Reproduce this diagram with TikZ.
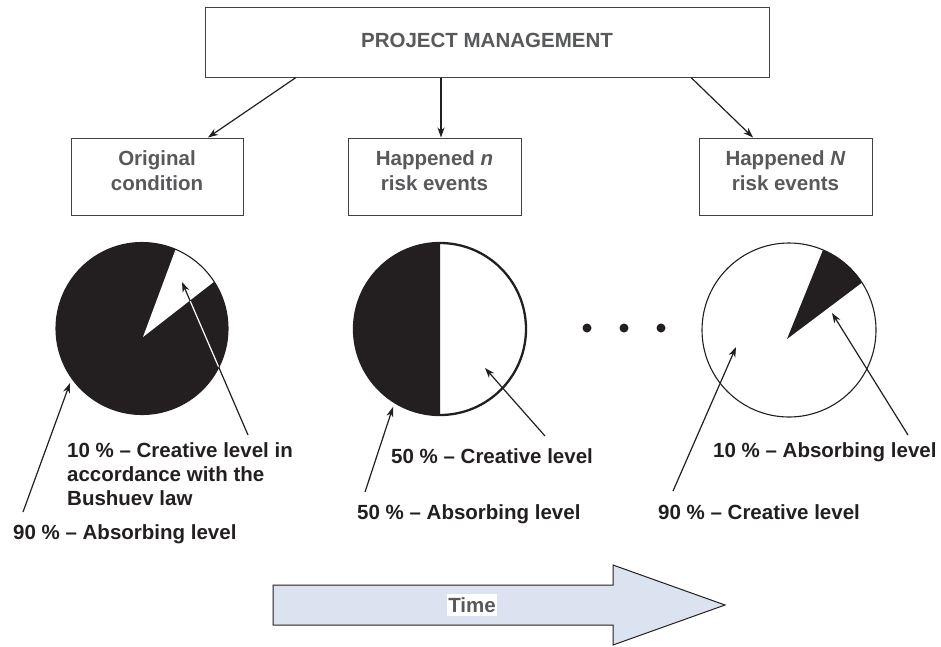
\documentclass[tikz,border=0pt]{standalone}
\usepackage{fontspec}
\setmainfont{Liberation Sans}
\usetikzlibrary{arrows.meta,calc}
\definecolor{ink}{HTML}{231F20}
\definecolor{graytxt}{HTML}{58595B}
\definecolor{timefill}{HTML}{DCE3F0}
\begin{document}
\begin{tikzpicture}[x=1pt,y=-1pt,
  txt/.style={font=\fontsize{20.5}{25}\selectfont\bfseries},
  box/.style={draw=ink!85, line width=1pt, fill=white, inner sep=0pt},
  boxtext/.style={txt, text=graytxt, align=center, inner sep=0pt},
  lbl/.style={txt, text=ink, anchor=base west, inner sep=0pt, align=left},
  conn/.style={draw=ink, line width=1.2pt, -{Stealth[length=10pt,width=7pt,inset=3pt]}},
  piethin/.style={draw=ink, line width=1.1pt},
  piethick/.style={draw=ink, line width=2.3pt}]
\useasboundingbox (0,0) rectangle (941,646);

% top box
\node[box, minimum width=564pt, minimum height=70pt] (pm) at (487,42) {};
\node[boxtext] (pmt) at (487,40) {PROJECT MANAGEMENT};

% state boxes
\node[box, minimum width=172pt, minimum height=77pt] (b1) at (157,176.5) {};
\node[box, minimum width=173pt, minimum height=77pt] (b2) at (434.5,176.5) {};
\node[box, minimum width=173pt, minimum height=77pt] (b3) at (785.5,176.5) {};
\node[boxtext] (b1t) at (157,170.5) {Original\\condition};
\node[boxtext] (b2t) at (434.5,170.5) {Happened \textit{n}\\risk events};
\node[boxtext] (b3t) at (785.5,170.5) {Happened \textit{N}\\risk events};

\draw[conn] (296,0 |- pm.south) -- (208,0 |- b1.north);
\draw[conn] (441,0 |- pm.south) -- (441,0 |- b2.north);
\draw[conn] (691,0 |- pm.south) -- (753,0 |- b3.north);

% pie 1
\coordinate (c1) at (142,328.5);
\fill[ink] (c1) circle (86);
\fill[white] (143,337) -- ($(c1)+(-33:86)$) arc[start angle=-33, end angle=-67, radius=86] -- cycle;
\draw[piethin] (c1) circle (86);

% pie 2
\coordinate (c2) at (440,329);
\fill[white] (c2) circle (86);
\fill[ink] (440,243) arc[start angle=-90, end angle=-270, radius=86] -- cycle;
\draw[piethick] (c2) circle (86);

% dots
\fill[ink] (587,328) circle (4.5);
\fill[ink] (624,328) circle (4.5);
\fill[ink] (661,328) circle (4.5);

% pie 3
\coordinate (c3) at (789,330);
\fill[white] (c3) circle (87);
\fill[ink] (787,339) -- ($(c3)+(-33:87)$) arc[start angle=-33, end angle=-67, radius=87] -- cycle;
\draw[piethin] (c3) circle (87);

% labels
\node[lbl] (l1) at (67,505) {10 \% -- Creative level in\\[-1pt]accordance with the\\[-1pt]Bushuev law};
\node[lbl] (l2) at (13,539) {90 \% -- Absorbing level};
\node[lbl] (l3) at (391,463) {50 \% -- Creative level};
\node[lbl] (l4) at (357,519) {50 \% -- Absorbing level};
\node[lbl] (l5) at (713,457) {10 \% -- Absorbing level};
\node[lbl] (l6) at (658,519) {90 \% -- Creative level};

% pointer arrows
\coordinate (t1) at (23,512);   \coordinate (h1) at (70,383);
\coordinate (t2) at (248,435);  \coordinate (h2) at (182,282);
\coordinate (t3) at (365,492);  \coordinate (h3) at (393,407);
\coordinate (t4) at (545,436);  \coordinate (h4) at (485,368);
\coordinate (t5) at (673,491);  \coordinate (h5) at (736,347);
\coordinate (t6) at (908,435);  \coordinate (h6) at (832,313);
\draw[conn] (t1) -- (h1);
\draw[conn] (t2) -- (h2);
\begin{scope}
  \clip (c1) circle (85.5);
  \draw[white, line width=1.2pt] (t2) -- ($(t2)!0.875!(h2)$);
\end{scope}
\draw[conn] (t3) -- (h3);
\draw[conn] (t4) -- (h4);
\draw[conn] (t5) -- (h5);
\draw[conn] (t6) -- (h6);

% time arrow
\draw[draw=ink, line width=1pt, fill=timefill, line join=miter]
  (273,585) -- (613,585) -- (613,565) -- (725,605) -- (613,645) -- (613,625) -- (273,625) -- cycle;
\node[txt, text=graytxt, fill=white, inner xsep=1.5pt, inner ysep=3pt] (time) at (472,605) {Time};
\end{tikzpicture}
\end{document}
